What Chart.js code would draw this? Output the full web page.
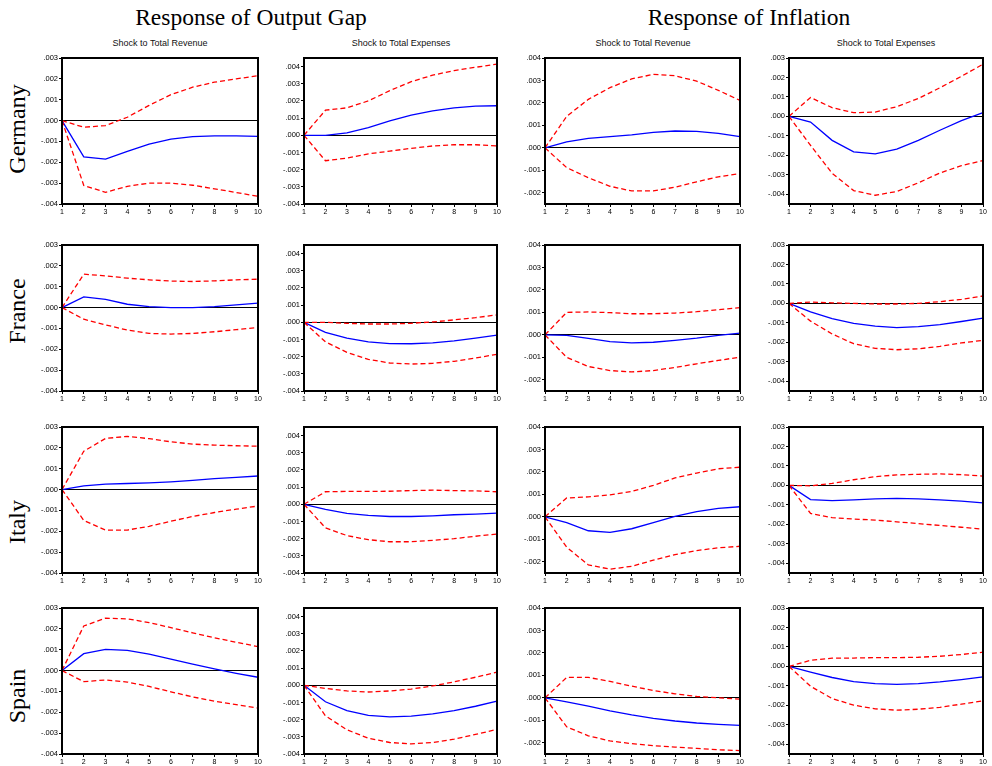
<!DOCTYPE html>
<html><head><meta charset="utf-8">
<script src="https://cdn.jsdelivr.net/npm/chart.js@4"></script>
<style>
body{margin:0;background:#fff;width:992px;height:766px;position:relative;overflow:hidden;font-family:"Liberation Sans",Arial,sans-serif}
.main{position:absolute;font-family:"Liberation Serif","Times New Roman",serif;font-size:23.5px;color:#000;transform:translateX(-50%);white-space:nowrap;top:4px;line-height:27px}
.row{position:absolute;font-family:"Liberation Serif","Times New Roman",serif;font-size:24px;transform:translate(-50%,-50%) rotate(-90deg);white-space:nowrap;left:17px;line-height:26px}
.sub{position:absolute;font-size:9px;transform:translateX(-50%);white-space:nowrap;top:38px;line-height:11px;color:#111}
canvas{position:absolute}
</style></head><body>
<div class="main" style="left:251px">Response of Output Gap</div>
<div class="main" style="left:749px">Response of Inflation</div>
<div class="sub" style="left:160px">Shock to Total Revenue</div>
<div class="sub" style="left:401px">Shock to Total Expenses</div>
<div class="sub" style="left:643px">Shock to Total Revenue</div>
<div class="sub" style="left:886px">Shock to Total Expenses</div>
<div class="row" style="top:129px">Germany</div>
<div class="row" style="top:311px">France</div>
<div class="row" style="top:522px">Italy</div>
<div class="row" style="top:696px">Spain</div>
<script>
// Periods (x-axis categories)
const periods = ['1','2','3','4','5','6','7','8','9','10'];
const countries = ['Germany','France','Italy','Spain'];
const shocks = ['Shock to Total Revenue','Shock to Total Expenses'];

// Y-axis tick labels per column
const ticksOgRev = [-0.004,-0.003,-0.002,-0.001,0,0.001,0.002,0.003];
const ticksOgExp = [-0.004,-0.003,-0.002,-0.001,0,0.001,0.002,0.003,0.004];
const ticksInfRev = [-0.002,-0.001,0,0.001,0.002,0.003,0.004];
const ticksInfExp = [-0.004,-0.003,-0.002,-0.001,0,0.001,0.002,0.003];

// Germany
const de_og_rev    = [0,-0.00174,-0.00185,-0.00148,-0.00113,-0.00089,-0.00077,-0.00073,-0.00073,-0.00076];
const de_og_rev_hi = [0,-0.00032,-0.00024,0.00016,0.00073,0.00124,0.0016,0.00184,0.002,0.00215];
const de_og_rev_lo = [0,-0.00311,-0.00344,-0.00315,-0.003,-0.003,-0.0031,-0.00327,-0.00345,-0.00363];
const de_og_exp    = [0,0,0.00014,0.00045,0.00084,0.00117,0.00142,0.0016,0.0017,0.00172];
const de_og_exp_hi = [0,0.00146,0.0016,0.002,0.0026,0.00312,0.0035,0.00377,0.00396,0.00414];
const de_og_exp_lo = [0,-0.00148,-0.00133,-0.00108,-0.00092,-0.00076,-0.00062,-0.00055,-0.00055,-0.00062];
const de_inf_rev    = [0,0.00027,0.00042,0.0005,0.00058,0.00069,0.00075,0.00073,0.00064,0.0005];
const de_inf_rev_hi = [0,0.0014,0.00216,0.00268,0.00307,0.00327,0.00321,0.00297,0.00256,0.00211];
const de_inf_rev_lo = [0,-0.00088,-0.00133,-0.00171,-0.00192,-0.00192,-0.00175,-0.00151,-0.00129,-0.00114];
const de_inf_exp    = [0,-0.00029,-0.00123,-0.00182,-0.00192,-0.00168,-0.00123,-0.00071,-0.00022,0.00019];
const de_inf_exp_hi = [0,0.00097,0.00045,0.00019,0.00022,0.0005,0.00092,0.00147,0.00206,0.00268];
const de_inf_exp_lo = [0,-0.00149,-0.00292,-0.00381,-0.00405,-0.00386,-0.00341,-0.00291,-0.00253,-0.00227];

// France
const fr_og_rev    = [0,0.00051,0.00039,0.00016,0.00005,0,0,0.00005,0.00013,0.00021];
const fr_og_rev_hi = [0,0.0016,0.00152,0.00141,0.00133,0.00127,0.00125,0.00128,0.00133,0.00136];
const fr_og_rev_lo = [0,-0.00056,-0.00083,-0.00108,-0.00124,-0.00127,-0.00124,-0.00116,-0.00106,-0.00096];
const fr_og_exp    = [0,-0.00059,-0.00092,-0.00114,-0.00124,-0.00125,-0.0012,-0.00108,-0.00092,-0.00075];
const fr_og_exp_hi = [0,0,-0.00006,-0.0001,-0.0001,-0.00006,0.00002,0.00014,0.00027,0.00043];
const fr_og_exp_lo = [0,-0.00114,-0.00175,-0.00216,-0.00237,-0.00243,-0.00239,-0.00227,-0.00208,-0.00186];
const fr_inf_rev    = [0,-0.00002,-0.00016,-0.0003,-0.00036,-0.00033,-0.00025,-0.00015,-0.00002,0.00008];
const fr_inf_rev_hi = [0,0.001,0.00102,0.00099,0.00094,0.00094,0.00097,0.00103,0.00112,0.00121];
const fr_inf_rev_lo = [0,-0.001,-0.00141,-0.00159,-0.00165,-0.00159,-0.00145,-0.00129,-0.00114,-0.00099];
const fr_inf_exp    = [0,-0.00043,-0.00078,-0.00103,-0.00117,-0.00124,-0.00119,-0.00109,-0.00093,-0.00076];
const fr_inf_exp_hi = [0,0.00007,0.00003,0,-0.00003,-0.00003,0,0.00009,0.00021,0.00038];
const fr_inf_exp_lo = [0,-0.00091,-0.00157,-0.00207,-0.00231,-0.00238,-0.00233,-0.00221,-0.00203,-0.0019];

// Italy
const it_og_rev    = [0,0.00018,0.00026,0.00029,0.00032,0.00037,0.00044,0.00052,0.00058,0.00065];
const it_og_rev_hi = [0,0.00184,0.00245,0.00255,0.00244,0.00229,0.00218,0.00213,0.0021,0.00208];
const it_og_rev_lo = [0,-0.00148,-0.00194,-0.00194,-0.00176,-0.00152,-0.00129,-0.0011,-0.00094,-0.00079];
const it_og_exp    = [0,-0.00029,-0.00053,-0.00065,-0.00071,-0.00071,-0.00067,-0.00061,-0.00057,-0.00051];
const it_og_exp_hi = [0,0.00073,0.00075,0.00075,0.00076,0.0008,0.00082,0.0008,0.00078,0.00073];
const it_og_exp_lo = [0,-0.00137,-0.00182,-0.00206,-0.00218,-0.00218,-0.0021,-0.002,-0.00186,-0.00173];
const it_inf_rev    = [0,-0.00026,-0.00062,-0.00069,-0.00053,-0.00026,0.00002,0.00023,0.00038,0.00045];
const it_inf_rev_hi = [0,0.00084,0.00089,0.00098,0.00113,0.0014,0.00173,0.00195,0.00214,0.00221];
const it_inf_rev_lo = [0,-0.00135,-0.00214,-0.00233,-0.0022,-0.00193,-0.00168,-0.0015,-0.00138,-0.00131];
const it_inf_exp    = [0,-0.00073,-0.00078,-0.00074,-0.00069,-0.00067,-0.00069,-0.00074,-0.00081,-0.0009];
const it_inf_exp_hi = [0,-0.00002,0.0001,0.00029,0.00045,0.00054,0.00057,0.00059,0.00055,0.00048];
const it_inf_exp_lo = [0,-0.00144,-0.00166,-0.00173,-0.00178,-0.00187,-0.00196,-0.00206,-0.00215,-0.00225];

// Spain
const es_og_rev    = [0,0.00081,0.00102,0.00097,0.00079,0.00055,0.00031,0.00008,-0.00013,-0.00032];
const es_og_rev_hi = [0,0.00214,0.00251,0.00248,0.0023,0.00206,0.00181,0.00157,0.00136,0.00115];
const es_og_rev_lo = [0,-0.00053,-0.00045,-0.00055,-0.00076,-0.00102,-0.00126,-0.00147,-0.00163,-0.0018];
const es_og_exp    = [0,-0.00096,-0.00147,-0.00175,-0.00184,-0.0018,-0.00167,-0.00147,-0.00122,-0.00092];
const es_og_exp_hi = [0,-0.00018,-0.00033,-0.00039,-0.00033,-0.00022,-0.00004,0.0002,0.00047,0.00076];
const es_og_exp_lo = [0,-0.00178,-0.00259,-0.00308,-0.00333,-0.00341,-0.00333,-0.00314,-0.00286,-0.00257];
const es_inf_rev    = [0,-0.00018,-0.00037,-0.00058,-0.00076,-0.00091,-0.00103,-0.00112,-0.00118,-0.00123];
const es_inf_rev_hi = [0,0.00091,0.00091,0.00073,0.00052,0.00033,0.00018,0.00006,0,-0.00006];
const es_inf_rev_lo = [0,-0.00129,-0.00169,-0.00192,-0.00204,-0.00213,-0.00219,-0.00225,-0.00231,-0.00235];
const es_inf_exp    = [0,-0.00029,-0.00057,-0.00078,-0.00088,-0.00092,-0.00088,-0.0008,-0.00068,-0.00054];
const es_inf_exp_hi = [0,0.00031,0.00042,0.00043,0.00045,0.00045,0.00047,0.00052,0.00061,0.00073];
const es_inf_exp_lo = [0,-0.00102,-0.00165,-0.00199,-0.00218,-0.00225,-0.0022,-0.0021,-0.00194,-0.00177];

const panels = [
  [[de_og_rev,de_og_rev_lo,de_og_rev_hi],[de_og_exp,de_og_exp_lo,de_og_exp_hi],[de_inf_rev,de_inf_rev_lo,de_inf_rev_hi],[de_inf_exp,de_inf_exp_lo,de_inf_exp_hi]],
  [[fr_og_rev,fr_og_rev_lo,fr_og_rev_hi],[fr_og_exp,fr_og_exp_lo,fr_og_exp_hi],[fr_inf_rev,fr_inf_rev_lo,fr_inf_rev_hi],[fr_inf_exp,fr_inf_exp_lo,fr_inf_exp_hi]],
  [[it_og_rev,it_og_rev_lo,it_og_rev_hi],[it_og_exp,it_og_exp_lo,it_og_exp_hi],[it_inf_rev,it_inf_rev_lo,it_inf_rev_hi],[it_inf_exp,it_inf_exp_lo,it_inf_exp_hi]],
  [[es_og_rev,es_og_rev_lo,es_og_rev_hi],[es_og_exp,es_og_exp_lo,es_og_exp_hi],[es_inf_rev,es_inf_rev_lo,es_inf_rev_hi],[es_inf_exp,es_inf_exp_lo,es_inf_exp_hi]]
];
const colTicks = [ticksOgRev, ticksOgExp, ticksInfRev, ticksInfExp];
const colRange = [[-0.004,0.003],[-0.004,0.0045],[-0.0025,0.004],[-0.0045,0.003]];

// layout (plot area in page pixels)
const colL = [62,304,545,789], colR = [258,497,740,983];
const rowT = [58,245,427,608], rowB = [204,391,573,754];
const AX_W = 45, AX_H = 14, PAD_T = 6, PAD_R = 7;

const frame = {
  id:'frame',
  afterDraw(chart){
    const a = chart.chartArea, c = chart.ctx;
    c.save(); c.strokeStyle = '#000'; c.lineWidth = 2;
    c.strokeRect(a.left, a.top, a.right - a.left, a.bottom - a.top);
    c.restore();
  }
};

function fmt(v){
  const s = Math.abs(v).toFixed(3).replace(/^0/, '');
  return (v < -1e-12 ? '-' : '') + s;
}

for (let r = 0; r < 4; r++) {
  for (let c = 0; c < 4; c++) {
    const cv = document.createElement('canvas');
    const w = colR[c] - colL[c] + AX_W + PAD_R;
    const h = rowB[r] - rowT[r] + PAD_T + AX_H;
    cv.width = w; cv.height = h;
    cv.style.left = (colL[c] - AX_W) + 'px';
    cv.style.top = (rowT[r] - PAD_T) + 'px';
    cv.style.width = w + 'px'; cv.style.height = h + 'px';
    document.body.appendChild(cv);
    const [irf, lo, hi] = panels[r][c];
    const tv = colTicks[c];
    new Chart(cv, {
      type: 'line',
      data: {
        labels: periods,
        datasets: [
          {data: hi, borderColor:'#ff0000', borderWidth:1.3, borderDash:[5,3], pointRadius:0, tension:0, fill:false},
          {data: lo, borderColor:'#ff0000', borderWidth:1.3, borderDash:[5,3], pointRadius:0, tension:0, fill:false},
          {data: irf, borderColor:'#0000ff', borderWidth:1.3, pointRadius:0, tension:0, fill:false}
        ]
      },
      options: {
        responsive:false, animation:false, devicePixelRatio:1,
        layout:{padding:{top:PAD_T, right:PAD_R, left:0, bottom:0}},
        plugins:{legend:{display:false}, tooltip:{enabled:false}},
        scales:{
          x:{
            border:{display:false},
            grid:{drawOnChartArea:false, drawTicks:true, tickLength:3, tickColor:'#000'},
            ticks:{autoSkip:false, maxRotation:0, padding:1, color:'#000', font:{family:'"Liberation Sans", Arial', size:7}},
            afterFit(s){ s.height = AX_H; }
          },
          y:{
            min: colRange[c][0], max: colRange[c][1],
            border:{display:false},
            grid:{
              drawTicks:true, tickLength:3, tickColor:'#000',
              color:(ctx)=> (ctx.tick && Math.abs(ctx.tick.value) < 1e-12) ? '#000' : 'rgba(0,0,0,0)',
              lineWidth:1
            },
            afterBuildTicks(s){ s.ticks = tv.map(v => ({value:v})); },
            ticks:{padding:1, color:'#000', font:{family:'"Liberation Sans", Arial', size:7.5}, callback:(v)=>fmt(v)},
            afterFit(s){ s.width = AX_W; }
          }
        }
      },
      plugins:[frame]
    });
  }
}
</script>
</body></html>
